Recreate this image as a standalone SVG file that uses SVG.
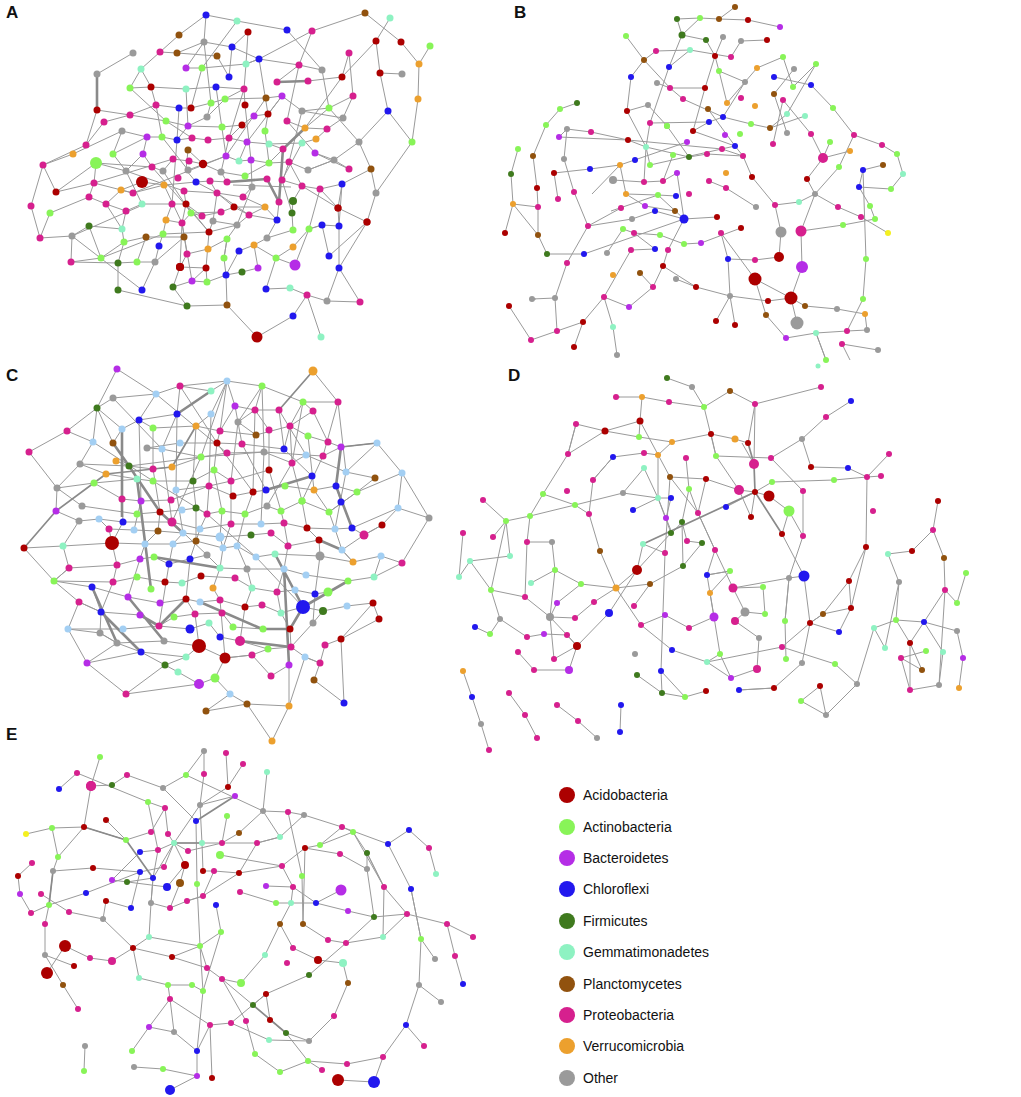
<svg xmlns="http://www.w3.org/2000/svg" width="1021" height="1097" viewBox="0 0 1021 1097">
<style>
.e path{fill:none;stroke:#9a9a9a;stroke-width:1;stroke-linejoin:round}
.e path.t{stroke:#8a8a8a;stroke-width:2.6}
.e path.m{stroke:#8a8a8a;stroke-width:1.7}
.lbl{font-family:"Liberation Sans",Arial,sans-serif;font-weight:bold;font-size:17px;fill:#111}
.lg{font-family:"Liberation Sans",Arial,sans-serif;font-size:14px;fill:#111}
.ac{fill:#ac0000}.at{fill:#88f458}.bc{fill:#b52de6}.cf{fill:#2218ee}.fi{fill:#3f7a1e}.ge{fill:#8ef2c2}.pl{fill:#91520e}.pr{fill:#d6208e}.ve{fill:#eca02e}.ot{fill:#9a9a9a}.lb{fill:#a3cff3}.ye{fill:#f4f020}
</style>
<rect width="1021" height="1097" fill="#fff"/>
<text class="lbl" x="6" y="18">A</text>
<text class="lbl" x="514" y="18">B</text>
<text class="lbl" x="6" y="381">C</text>
<text class="lbl" x="508" y="381">D</text>
<text class="lbl" x="6" y="740">E</text>

<g id="connectors-A" class="e">
<path d="M206 15L237 21L287 30L322 70L329 108L302 111M206 15L179 35L160 52L141 69L130 88M206 15L204 42L186 68M237 21L202 68L191 108M248 32L246 64L244 89L245 105M248 32L232 47L229 77M365 13L312 31L299 65L277 82M312 31L259 59L246 64M365 13L401 42L419 64L418 99L412 142L376 193L367 222L329 256M390 18L376 41L380 73L402 74M430 46L419 64M376 41L342 77L308 81M380 73L388 111L412 142M349 53L342 77M349 53L353 96L343 118L302 111L282 96M353 96L329 108L305 128M388 111L359 142L334 160L308 170M359 142L371 169L376 193M133 53L97 74M97 110L86 145L43 165L31 206L40 238L72 236L71 262L118 263L118 290L187 306L227 305L257 337L293 316L307 295L327 301L360 302L339 268L339 226L342 184M307 295L321 337M327 301L339 268M329 256L322 225L309 229M367 222L338 208L320 189M73 154L43 165M73 154L122 131L147 137M86 145L104 122L130 115L156 105M56 192L96 163L126 171L142 204M50 213L89 197L94 183L96 163M72 236L89 226L122 229L124 242L101 258L71 262M72 236L142 290M50 213L40 238M56 192L43 165M101 258L163 234L209 232M124 242L146 237L184 237M118 263L137 262L155 262L159 246M142 290L155 262L184 237M173 287L180 267L182 223L186 204M187 306L173 287M180 267L206 268L192 281L207 282M227 305L226 275L242 272L258 268M266 289L290 288L307 295M295 265L276 258L254 245L239 251M293 247L309 229L322 225L339 226M339 226L338 208L302 186L282 180M267 238L293 230L292 213L293 201M277 220L265 207L249 215L237 225L213 221M142 182L164 185L196 182L210 181L227 182M196 182L186 170L188 150M196 182L217 193L243 197L252 187M121 190L133 193L164 185M106 204L89 197M106 204L126 211L142 204M142 204L172 204L186 204L202 216L221 212L234 207L265 207M166 220L182 223L191 213L202 216M209 232L213 221L217 193L210 181M227 239L237 225L252 187M224 258L227 239L208 249L187 254L180 267M239 251L226 275L207 282M258 268L254 245L267 238L277 220L279 202M276 258L293 247M289 162L308 170L334 160L349 169M269 163L289 162L302 186L320 189L342 184L371 169M245 176L269 163L283 149L269 144M229 138L247 142L269 144L302 143L316 139L327 129L343 118M192 138L208 140L229 138L242 125L254 116L268 114L282 96M177 140L188 126L207 117L225 99L244 89M147 137L162 137L177 140L192 138M143 154L152 167L163 171L173 159L189 161L203 164L221 172L245 176M188 150L203 164M226 156L239 161L251 160L269 163M166 121L188 126L222 127L242 125M156 105L179 108L191 108L211 103L225 99L266 98L282 96M151 87L186 89L216 87L244 89M130 88L151 87L156 105M186 68L202 68L246 64L259 59L299 65L322 70M160 52L177 53L217 56L229 77M141 69L151 87M97 110L130 115L166 121M122 131L113 154L126 171M143 154L126 171M94 183L133 193M133 193L226 156M126 171L184 191L217 193L249 215L277 220M94 183L173 159M152 167L209 232L237 225M163 171L191 213L222 212M162 137L188 170L226 156L266 98M177 53L204 42L232 47L259 59M130 88L166 121L192 138M204 42L211 103L207 117M216 87L226 156M244 89L229 138L221 172L227 182M282 96L247 142L239 161M302 111L289 162L283 180M245 105L251 160L252 187M268 114L265 131L269 163M287 121L305 128L327 129M287 121L315 153L334 160M315 153L349 169M302 143L282 180M329 108L359 142M299 65L287 121M259 59L268 114M186 89L188 126M179 108L177 140L172 204M156 105L162 137M147 137L143 154M113 154L147 137M121 190L142 182M164 185L182 223L192 281M184 191L186 204M172 204L166 220L163 234M186 204L209 232M217 193L234 207L249 215M243 197L265 207M302 186L293 201M282 180L292 213M320 189L309 229L295 265M342 184L338 208M367 222L339 268M276 258L266 289M227 239L224 258L226 275M207 282L206 268L209 232M192 281L173 287M187 254L182 223M159 246L163 234M146 237L137 262M124 242L118 263M101 258L89 226M106 204L122 229M126 211L122 229M121 190L106 204M56 192L94 183M233 185L291 187M305 128L342 77M96 163L152 167M72 236L145 204"/>
<path class="t" d="M227 182L267 179L279 202L283 149L305 128M97 74L97 110M308 81L277 82"/>
</g>
<g id="nodes-A">
<circle id="a1" class="cf" cx="206" cy="15" r="3.5"/><circle id="a2" class="ge" cx="237" cy="21" r="3.5"/><circle id="a3" class="pl" cx="365" cy="13" r="3.5"/><circle id="a4" class="ge" cx="390" cy="18" r="3.5"/><circle id="a5" class="ac" cx="248" cy="32" r="3.5"/><circle id="a6" class="cf" cx="287" cy="30" r="3.5"/><circle id="a7" class="pr" cx="312" cy="31" r="3.5"/><circle id="a8" class="ac" cx="376" cy="41" r="3.5"/><circle id="a9" class="ac" cx="401" cy="42" r="3.5"/><circle id="a10" class="at" cx="430" cy="46" r="3.5"/>
<circle id="a11" class="pl" cx="179" cy="35" r="3.5"/><circle id="a12" class="ot" cx="204" cy="42" r="3.5"/><circle id="a13" class="cf" cx="232" cy="47" r="3.5"/><circle id="a14" class="ot" cx="133" cy="53" r="3.5"/><circle id="a15" class="pr" cx="160" cy="52" r="3.5"/><circle id="a16" class="pl" cx="177" cy="53" r="3.5"/><circle id="a17" class="pl" cx="217" cy="56" r="3.5"/><circle id="a18" class="cf" cx="259" cy="59" r="3.5"/><circle id="a19" class="pr" cx="349" cy="53" r="3.5"/><circle id="a20" class="ve" cx="419" cy="64" r="3.5"/>
<circle id="a21" class="ot" cx="97" cy="74" r="3.5"/><circle id="a22" class="ge" cx="141" cy="69" r="3.5"/><circle id="a23" class="bc" cx="186" cy="68" r="3.5"/><circle id="a24" class="at" cx="202" cy="68" r="3.5"/><circle id="a25" class="ge" cx="246" cy="64" r="3.5"/><circle id="a26" class="pr" cx="299" cy="65" r="3.5"/><circle id="a27" class="ot" cx="322" cy="70" r="3.5"/><circle id="a28" class="ac" cx="380" cy="73" r="3.5"/><circle id="a29" class="ot" cx="402" cy="74" r="3.5"/><circle id="a30" class="cf" cx="229" cy="77" r="3.5"/>
<circle id="a31" class="ac" cx="342" cy="77" r="3.5"/><circle id="a32" class="pr" cx="277" cy="82" r="3.5"/><circle id="a33" class="pr" cx="308" cy="81" r="3.5"/><circle id="a34" class="at" cx="130" cy="88" r="3.5"/><circle id="a35" class="ac" cx="151" cy="87" r="3.5"/><circle id="a36" class="ge" cx="186" cy="89" r="3.5"/><circle id="a37" class="cf" cx="216" cy="87" r="3.5"/><circle id="a38" class="pr" cx="244" cy="89" r="3.5"/><circle id="a39" class="pr" cx="353" cy="96" r="3.5"/><circle id="a40" class="ve" cx="418" cy="99" r="3.5"/>
<circle id="a41" class="pl" cx="266" cy="98" r="3.5"/><circle id="a42" class="bc" cx="282" cy="96" r="3.5"/><circle id="a43" class="at" cx="225" cy="99" r="3.5"/><circle id="a44" class="at" cx="211" cy="103" r="3.5"/><circle id="a45" class="ac" cx="245" cy="105" r="3.5"/><circle id="a46" class="pr" cx="156" cy="105" r="3.5"/><circle id="a47" class="cf" cx="179" cy="108" r="3.5"/><circle id="a48" class="ac" cx="191" cy="108" r="3.5"/><circle id="a49" class="ac" cx="97" cy="110" r="3.5"/><circle id="a50" class="at" cx="329" cy="108" r="3.5"/>
<circle id="a51" class="cf" cx="388" cy="111" r="3.5"/><circle id="a52" class="ot" cx="302" cy="111" r="3.5"/><circle id="a53" class="pr" cx="130" cy="115" r="3.5"/><circle id="a54" class="ot" cx="207" cy="117" r="3.5"/><circle id="a55" class="bc" cx="254" cy="116" r="3.5"/><circle id="a56" class="ac" cx="268" cy="114" r="3.5"/><circle id="a57" class="ot" cx="343" cy="118" r="3.5"/><circle id="a58" class="pr" cx="104" cy="122" r="3.5"/><circle id="a59" class="at" cx="166" cy="121" r="3.5"/><circle id="a60" class="bc" cx="188" cy="126" r="3.5"/>
<circle id="a61" class="at" cx="222" cy="127" r="3.5"/><circle id="a62" class="ac" cx="242" cy="125" r="3.5"/><circle id="a63" class="pr" cx="287" cy="121" r="3.5"/><circle id="a64" class="ve" cx="305" cy="128" r="3.5"/><circle id="a65" class="pr" cx="327" cy="129" r="3.5"/><circle id="a66" class="ot" cx="122" cy="131" r="3.5"/><circle id="a67" class="bc" cx="147" cy="137" r="3.5"/><circle id="a68" class="at" cx="162" cy="137" r="3.5"/><circle id="a69" class="cf" cx="177" cy="140" r="3.5"/><circle id="a70" class="pr" cx="192" cy="138" r="3.5"/>
<circle id="a71" class="pr" cx="208" cy="140" r="3.5"/><circle id="a72" class="pr" cx="229" cy="138" r="3.5"/><circle id="a73" class="bc" cx="247" cy="142" r="3.5"/><circle id="a74" class="at" cx="265" cy="131" r="3.5"/><circle id="a75" class="ge" cx="269" cy="144" r="3.5"/><circle id="a76" class="pr" cx="283" cy="149" r="3.5"/><circle id="a77" class="ge" cx="302" cy="143" r="3.5"/><circle id="a78" class="ve" cx="316" cy="139" r="3.5"/><circle id="a79" class="ot" cx="359" cy="142" r="3.5"/><circle id="a80" class="at" cx="412" cy="142" r="3.5"/>
<circle id="a81" class="pr" cx="86" cy="145" r="3.5"/><circle id="a82" class="ve" cx="73" cy="154" r="3.5"/><circle id="a83" class="at" cx="113" cy="154" r="3.5"/><circle id="a84" class="bc" cx="143" cy="154" r="3.5"/><circle id="a85" class="pl" cx="188" cy="150" r="3.5"/><circle id="a86" class="bc" cx="226" cy="156" r="3.5"/><circle id="a87" class="bc" cx="315" cy="153" r="3.5"/><circle id="a88" class="pr" cx="43" cy="165" r="3.5"/><circle id="a89" class="pr" cx="152" cy="167" r="3.5"/><circle id="a90" class="pr" cx="173" cy="159" r="3.5"/>
<circle id="a91" class="pr" cx="189" cy="161" r="3.5"/><circle id="a92" class="ac" cx="203" cy="164" r="4.2"/><circle id="a93" class="ge" cx="239" cy="161" r="3.5"/><circle id="a94" class="bc" cx="251" cy="160" r="3.5"/><circle id="a95" class="at" cx="269" cy="163" r="3.5"/><circle id="a96" class="pr" cx="289" cy="162" r="3.5"/><circle id="a97" class="ot" cx="334" cy="160" r="3.5"/><circle id="a98" class="pr" cx="349" cy="169" r="3.5"/><circle id="a99" class="pl" cx="371" cy="169" r="3.5"/><circle id="a100" class="ot" cx="126" cy="171" r="3.5"/>
<circle id="a101" class="ot" cx="163" cy="171" r="3.5"/><circle id="a102" class="ot" cx="188" cy="170" r="3.5"/><circle id="a103" class="ot" cx="221" cy="172" r="3.5"/><circle id="a104" class="at" cx="245" cy="176" r="3.5"/><circle id="a105" class="ot" cx="308" cy="170" r="3.5"/><circle id="a106" class="pr" cx="94" cy="183" r="3.5"/><circle id="a107" class="ve" cx="164" cy="185" r="3.5"/><circle id="a108" class="pr" cx="178" cy="178" r="3.5"/><circle id="a109" class="cf" cx="196" cy="182" r="3.5"/><circle id="a110" class="pr" cx="210" cy="181" r="3.5"/>
<circle id="a111" class="pr" cx="227" cy="182" r="3.5"/><circle id="a112" class="ot" cx="252" cy="187" r="3.5"/><circle id="a113" class="pr" cx="267" cy="179" r="3.5"/><circle id="a114" class="pr" cx="282" cy="180" r="3.5"/><circle id="a115" class="pr" cx="302" cy="186" r="3.5"/><circle id="a116" class="pr" cx="320" cy="189" r="3.5"/><circle id="a117" class="cf" cx="342" cy="184" r="3.5"/><circle id="a118" class="ac" cx="56" cy="192" r="3.5"/><circle id="a119" class="ve" cx="121" cy="190" r="3.5"/><circle id="a120" class="pr" cx="133" cy="193" r="3.5"/>
<circle id="a121" class="pr" cx="184" cy="191" r="3.5"/><circle id="a122" class="pr" cx="217" cy="193" r="3.5"/><circle id="a123" class="pr" cx="243" cy="197" r="3.5"/><circle id="a124" class="pr" cx="89" cy="197" r="3.5"/><circle id="a125" class="ot" cx="376" cy="193" r="3.5"/><circle id="a126" class="pr" cx="31" cy="206" r="3.5"/><circle id="a127" class="pr" cx="106" cy="204" r="3.5"/><circle id="a128" class="ge" cx="142" cy="204" r="3.5"/><circle id="a129" class="pr" cx="172" cy="204" r="3.5"/><circle id="a130" class="ac" cx="186" cy="204" r="3.5"/>
<circle id="a131" class="ac" cx="234" cy="207" r="3.5"/><circle id="a132" class="ve" cx="265" cy="207" r="3.5"/><circle id="a133" class="pr" cx="279" cy="202" r="3.5"/><circle id="a134" class="fi" cx="293" cy="201" r="4"/><circle id="a135" class="ac" cx="338" cy="208" r="3.5"/><circle id="a136" class="at" cx="50" cy="213" r="3.5"/><circle id="a137" class="pr" cx="126" cy="211" r="3.5"/><circle id="a138" class="at" cx="191" cy="213" r="3.5"/><circle id="a139" class="pr" cx="202" cy="216" r="3.5"/><circle id="a140" class="pr" cx="221" cy="212" r="3.5"/>
<circle id="a141" class="pr" cx="249" cy="215" r="3.5"/><circle id="a142" class="fi" cx="292" cy="213" r="3.5"/><circle id="a143" class="ve" cx="166" cy="220" r="3.5"/><circle id="a144" class="pr" cx="182" cy="223" r="3.5"/><circle id="a145" class="ot" cx="213" cy="221" r="3.5"/><circle id="a146" class="cf" cx="277" cy="220" r="3.5"/><circle id="a147" class="ac" cx="367" cy="222" r="3.5"/><circle id="a148" class="fi" cx="89" cy="226" r="3.5"/><circle id="a149" class="ge" cx="122" cy="229" r="3.5"/><circle id="a150" class="ac" cx="209" cy="232" r="3.5"/>
<circle id="a151" class="ot" cx="237" cy="225" r="3.5"/><circle id="a152" class="at" cx="293" cy="230" r="3.5"/><circle id="a153" class="at" cx="309" cy="229" r="3.5"/><circle id="a154" class="cf" cx="322" cy="225" r="3.5"/><circle id="a155" class="cf" cx="339" cy="226" r="3.5"/><circle id="a156" class="pr" cx="40" cy="238" r="3.5"/><circle id="a157" class="ot" cx="72" cy="236" r="3.5"/><circle id="a158" class="pl" cx="146" cy="237" r="3.5"/><circle id="a159" class="at" cx="163" cy="234" r="3.5"/><circle id="a160" class="pl" cx="184" cy="237" r="3.5"/>
<circle id="a161" class="at" cx="227" cy="239" r="3.5"/><circle id="a162" class="ot" cx="267" cy="238" r="3.5"/><circle id="a163" class="at" cx="124" cy="242" r="3.5"/><circle id="a164" class="cf" cx="159" cy="246" r="3.5"/><circle id="a165" class="ve" cx="208" cy="249" r="3.5"/><circle id="a166" class="cf" cx="239" cy="251" r="3.5"/><circle id="a167" class="ve" cx="254" cy="245" r="3.5"/><circle id="a168" class="ve" cx="293" cy="247" r="3.5"/><circle id="a169" class="cf" cx="329" cy="256" r="3.5"/><circle id="a170" class="at" cx="101" cy="258" r="3.5"/>
<circle id="a171" class="pr" cx="187" cy="254" r="3.5"/><circle id="a172" class="at" cx="224" cy="258" r="3.5"/><circle id="a173" class="at" cx="276" cy="258" r="3.5"/><circle id="a174" class="bc" cx="295" cy="265" r="5.5"/><circle id="a175" class="pr" cx="71" cy="262" r="3.5"/><circle id="a176" class="fi" cx="118" cy="263" r="3.5"/><circle id="a177" class="at" cx="137" cy="262" r="3.5"/><circle id="a178" class="ot" cx="155" cy="262" r="3.5"/><circle id="a179" class="ac" cx="180" cy="267" r="4"/><circle id="a180" class="ac" cx="206" cy="268" r="3.5"/>
<circle id="a181" class="bc" cx="258" cy="268" r="3.5"/><circle id="a182" class="cf" cx="339" cy="268" r="3.5"/><circle id="a183" class="fi" cx="242" cy="272" r="3.5"/><circle id="a184" class="cf" cx="226" cy="275" r="3.5"/><circle id="a185" class="bc" cx="192" cy="281" r="3.5"/><circle id="a186" class="at" cx="207" cy="282" r="3.5"/><circle id="a187" class="fi" cx="173" cy="287" r="3.5"/><circle id="a188" class="cf" cx="266" cy="289" r="3.5"/><circle id="a189" class="ge" cx="290" cy="288" r="3.5"/><circle id="a190" class="fi" cx="118" cy="290" r="3.5"/>
<circle id="a191" class="cf" cx="142" cy="290" r="3.5"/><circle id="a192" class="pr" cx="307" cy="295" r="3.5"/><circle id="a193" class="ot" cx="327" cy="301" r="3.5"/><circle id="a194" class="pr" cx="360" cy="302" r="3.5"/><circle id="a195" class="fi" cx="187" cy="306" r="3.5"/><circle id="a196" class="pl" cx="227" cy="305" r="3.5"/><circle id="a197" class="cf" cx="293" cy="316" r="3.5"/><circle id="a198" class="ac" cx="257" cy="337" r="5.5"/><circle id="a199" class="ge" cx="321" cy="337" r="3.5"/><circle id="a200" class="ac" cx="142" cy="182" r="6"/>
<circle id="a201" class="at" cx="96" cy="163" r="6"/><circle id="a202" class="ac" cx="338" cy="208" r="3.5"/><circle id="a203" class="ac" cx="180" cy="267" r="4"/><circle id="a204" class="ac" cx="367" cy="222" r="3.5"/>
</g>

<g id="connectors-B" class="e">
<path d="M677 19L700 18L719 19L748 20L780 27M719 19L735 7M677 19L682 35L706 40L715 56M700 18L682 35L669 67M723 37L715 56M741 41L767 40M741 41L731 57M626 36L644 60L656 51L690 50L731 57M690 50L669 67M644 60L631 77L627 111M644 60L670 88M715 56L705 88M715 56L719 71L727 103M719 71L745 82M757 68L783 57L793 87M757 68L727 103M794 69L774 94M816 64L793 87M816 64L787 114M774 77L811 85L833 108M657 83L670 88L705 88M670 88L683 99L723 117M705 88L693 131M648 105L627 111M648 105L667 126M627 111L646 147M669 67L650 123L646 147L644 182M723 117L709 122L693 131M723 117L751 124L770 128L787 114M770 128L805 116M708 109L735 146M745 82L723 117M774 94L787 133M783 100L773 144M783 100L811 134L823 158L850 151M833 108L854 135L882 145L897 154L903 174L891 189M854 135L839 167M546 125L560 109L577 103M546 125L533 156L537 188L538 207L538 235M513 204L511 174L518 149M513 204L505 233M513 204L538 207M513 204L538 235L547 254L584 254M567 129L591 132L628 140M567 129L564 159L574 192L588 226M559 137L567 129M554 173L558 199M554 173L590 169L620 165M620 165L687 142M620 165L626 194L658 195L676 196M626 194L645 206L675 211M613 180L644 182M646 147L628 140M646 147L689 157L707 154L743 156M673 155L663 181M677 173L684 219L717 217M684 219L668 250M588 226L632 219L655 211L684 219M588 226L567 263L555 298L532 299M555 298L557 331L531 340L509 306M557 331L583 322L574 347M583 322L604 297L629 307L653 287L663 266M604 297L613 327L617 355M604 297L631 250L655 249M584 254L684 219M660 235L684 244L701 243L741 228M663 266L668 250M663 266L696 287L730 296L768 301L791 298M730 296L716 321M730 296L735 325M728 259L730 296M728 259L755 260L779 257L781 232M801 231L802 267L791 298M791 298L797 323M791 298L805 306L837 309L865 314M755 279L791 298M755 279L766 315L786 338L816 333L847 331L867 330M816 333L826 360M863 299L847 331M863 299L866 259L863 170M865 314L867 330M878 350L842 344L850 360M721 233L755 279M721 233L728 259M801 231L843 225L875 219M801 231L815 194L807 179M815 194L838 207L861 217L888 233M775 205L799 202L815 194M756 207L726 188M775 205L781 232M752 177L775 205M839 167L815 194M859 187L870 206L875 219M859 187L863 170L883 165M859 187L891 189M559 137L628 140L722 149M650 165L735 146M620 165L592 194M611 211L658 195M722 149L743 156M709 181L726 188M658 195L684 219M621 208L588 226M634 233L655 249M607 253L623 229L634 233L660 235M536 299L532 299M676 279L696 287M640 273L653 287M667 126L689 157M650 123L709 122M693 131L735 146L743 156M743 156L752 177M807 179L823 158M830 142L823 158M646 147L650 165M677 173L663 181L644 182M826 360L816 333"/>
</g>
<g id="nodes-B">
<circle id="b1" class="fi" cx="677" cy="19" r="3"/><circle id="b2" class="at" cx="700" cy="18" r="3"/><circle id="b3" class="pl" cx="719" cy="19" r="3"/><circle id="b4" class="pl" cx="735" cy="7" r="3"/><circle id="b5" class="ac" cx="748" cy="20" r="3"/><circle id="b6" class="bc" cx="780" cy="27" r="3"/><circle id="b7" class="fi" cx="682" cy="35" r="3.5"/><circle id="b8" class="fi" cx="706" cy="40" r="3"/><circle id="b9" class="ot" cx="723" cy="37" r="3"/><circle id="b10" class="ot" cx="741" cy="41" r="3"/>
<circle id="b11" class="ac" cx="767" cy="40" r="3"/><circle id="b12" class="at" cx="626" cy="36" r="3"/><circle id="b13" class="pr" cx="656" cy="51" r="3"/><circle id="b14" class="ge" cx="690" cy="50" r="3"/><circle id="b15" class="ac" cx="715" cy="56" r="3"/><circle id="b16" class="pr" cx="731" cy="57" r="3"/><circle id="b17" class="at" cx="783" cy="57" r="3"/><circle id="b18" class="pl" cx="644" cy="60" r="3"/><circle id="b19" class="cf" cx="669" cy="67" r="3"/><circle id="b20" class="at" cx="719" cy="71" r="3"/>
<circle id="b21" class="ve" cx="757" cy="68" r="3"/><circle id="b22" class="ot" cx="794" cy="69" r="3"/><circle id="b23" class="at" cx="816" cy="64" r="3"/><circle id="b24" class="cf" cx="631" cy="77" r="3"/><circle id="b25" class="ot" cx="657" cy="83" r="3"/><circle id="b26" class="pr" cx="670" cy="88" r="3"/><circle id="b27" class="ac" cx="705" cy="88" r="3"/><circle id="b28" class="ot" cx="745" cy="82" r="3"/><circle id="b29" class="cf" cx="774" cy="77" r="3"/><circle id="b30" class="at" cx="793" cy="87" r="3"/>
<circle id="b31" class="cf" cx="811" cy="85" r="3"/><circle id="b32" class="pr" cx="683" cy="99" r="3"/><circle id="b33" class="pr" cx="741" cy="98" r="3"/><circle id="b34" class="pl" cx="774" cy="94" r="3"/><circle id="b35" class="pr" cx="783" cy="100" r="3"/><circle id="b36" class="fi" cx="577" cy="103" r="3"/><circle id="b37" class="at" cx="560" cy="109" r="3"/><circle id="b38" class="ac" cx="627" cy="111" r="3"/><circle id="b39" class="ot" cx="648" cy="105" r="3"/><circle id="b40" class="pl" cx="708" cy="109" r="3"/>
<circle id="b41" class="ve" cx="727" cy="103" r="3"/><circle id="b42" class="ve" cx="755" cy="106" r="3"/><circle id="b43" class="at" cx="833" cy="108" r="3"/><circle id="b44" class="ge" cx="787" cy="114" r="3"/><circle id="b45" class="ge" cx="805" cy="116" r="3"/><circle id="b46" class="cf" cx="723" cy="117" r="3"/><circle id="b47" class="cf" cx="709" cy="122" r="3"/><circle id="b48" class="pr" cx="650" cy="123" r="3"/><circle id="b49" class="at" cx="667" cy="126" r="3"/><circle id="b50" class="at" cx="751" cy="124" r="3"/>
<circle id="b51" class="pl" cx="770" cy="128" r="3"/><circle id="b52" class="at" cx="546" cy="125" r="3"/><circle id="b53" class="ot" cx="567" cy="129" r="3"/><circle id="b54" class="bc" cx="559" cy="137" r="3"/><circle id="b55" class="pr" cx="591" cy="132" r="3"/><circle id="b56" class="ac" cx="628" cy="140" r="3"/><circle id="b57" class="ac" cx="693" cy="131" r="3"/><circle id="b58" class="bc" cx="725" cy="135" r="3"/><circle id="b59" class="at" cx="740" cy="134" r="3"/><circle id="b60" class="ot" cx="787" cy="133" r="3"/>
<circle id="b61" class="pr" cx="811" cy="134" r="3"/><circle id="b62" class="pr" cx="854" cy="135" r="3"/><circle id="b63" class="bc" cx="687" cy="142" r="3"/><circle id="b64" class="cf" cx="735" cy="146" r="3"/><circle id="b65" class="pr" cx="773" cy="144" r="3"/><circle id="b66" class="at" cx="830" cy="142" r="3"/><circle id="b67" class="pr" cx="882" cy="145" r="3"/><circle id="b68" class="ge" cx="646" cy="147" r="3"/><circle id="b69" class="pr" cx="722" cy="149" r="3"/><circle id="b70" class="at" cx="518" cy="149" r="3"/>
<circle id="b71" class="pl" cx="533" cy="156" r="3"/><circle id="b72" class="ot" cx="564" cy="159" r="3"/><circle id="b73" class="cf" cx="635" cy="160" r="3"/><circle id="b74" class="at" cx="673" cy="155" r="3"/><circle id="b75" class="fi" cx="689" cy="157" r="3"/><circle id="b76" class="pr" cx="707" cy="154" r="3"/><circle id="b77" class="pr" cx="743" cy="156" r="3"/><circle id="b78" class="pr" cx="823" cy="158" r="5"/><circle id="b79" class="ve" cx="850" cy="151" r="3"/><circle id="b80" class="at" cx="897" cy="154" r="3"/>
<circle id="b81" class="fi" cx="511" cy="174" r="3"/><circle id="b82" class="ac" cx="554" cy="173" r="3"/><circle id="b83" class="cf" cx="590" cy="169" r="3"/><circle id="b84" class="ve" cx="620" cy="165" r="3"/><circle id="b85" class="at" cx="650" cy="165" r="3"/><circle id="b86" class="at" cx="839" cy="167" r="3"/><circle id="b87" class="pl" cx="883" cy="165" r="3"/><circle id="b88" class="cf" cx="863" cy="170" r="3"/><circle id="b89" class="ge" cx="903" cy="174" r="3"/><circle id="b90" class="ot" cx="613" cy="180" r="4"/>
<circle id="b91" class="pr" cx="644" cy="182" r="3"/><circle id="b92" class="pr" cx="663" cy="181" r="3"/><circle id="b93" class="bc" cx="677" cy="173" r="3"/><circle id="b94" class="pr" cx="709" cy="181" r="3"/><circle id="b95" class="ve" cx="726" cy="173" r="3"/><circle id="b96" class="ac" cx="752" cy="177" r="3"/><circle id="b97" class="ac" cx="807" cy="179" r="3"/><circle id="b98" class="ac" cx="537" cy="188" r="3"/><circle id="b99" class="pr" cx="574" cy="192" r="3"/><circle id="b100" class="cf" cx="859" cy="187" r="3"/>
<circle id="b101" class="at" cx="891" cy="189" r="3"/><circle id="b102" class="pr" cx="558" cy="199" r="3"/><circle id="b103" class="ve" cx="626" cy="194" r="3"/><circle id="b104" class="at" cx="658" cy="195" r="3"/><circle id="b105" class="cf" cx="676" cy="196" r="3"/><circle id="b106" class="pr" cx="689" cy="194" r="3"/><circle id="b107" class="pr" cx="726" cy="188" r="3"/><circle id="b108" class="ot" cx="815" cy="194" r="3"/><circle id="b109" class="ve" cx="513" cy="204" r="3"/><circle id="b110" class="pr" cx="538" cy="207" r="3"/>
<circle id="b111" class="pr" cx="621" cy="208" r="3"/><circle id="b112" class="bc" cx="645" cy="206" r="3"/><circle id="b113" class="pl" cx="675" cy="211" r="3"/><circle id="b114" class="ot" cx="756" cy="207" r="3"/><circle id="b115" class="pr" cx="775" cy="205" r="3"/><circle id="b116" class="ge" cx="799" cy="202" r="3"/><circle id="b117" class="pr" cx="838" cy="207" r="3"/><circle id="b118" class="at" cx="870" cy="206" r="3"/><circle id="b119" class="pr" cx="861" cy="217" r="3"/><circle id="b120" class="at" cx="875" cy="219" r="3"/>
<circle id="b121" class="cf" cx="655" cy="211" r="3"/><circle id="b122" class="cf" cx="684" cy="219" r="4.5"/><circle id="b123" class="ac" cx="717" cy="217" r="3"/><circle id="b124" class="ot" cx="632" cy="219" r="3"/><circle id="b125" class="pr" cx="588" cy="226" r="3"/><circle id="b126" class="ac" cx="505" cy="233" r="3"/><circle id="b127" class="pl" cx="538" cy="235" r="3"/><circle id="b128" class="at" cx="623" cy="229" r="3"/><circle id="b129" class="pr" cx="634" cy="233" r="3"/><circle id="b130" class="pr" cx="721" cy="233" r="3"/>
<circle id="b131" class="ac" cx="741" cy="228" r="3"/><circle id="b132" class="ot" cx="781" cy="232" r="5.5"/><circle id="b133" class="pr" cx="801" cy="231" r="5.5"/><circle id="b134" class="at" cx="843" cy="225" r="3"/><circle id="b135" class="ye" cx="888" cy="233" r="3"/><circle id="b136" class="at" cx="660" cy="235" r="3"/><circle id="b137" class="at" cx="684" cy="244" r="3"/><circle id="b138" class="bc" cx="701" cy="243" r="3"/><circle id="b139" class="fi" cx="547" cy="254" r="3"/><circle id="b140" class="cf" cx="584" cy="254" r="3"/>
<circle id="b141" class="cf" cx="655" cy="249" r="3"/><circle id="b142" class="pr" cx="631" cy="250" r="3"/><circle id="b143" class="pr" cx="668" cy="250" r="3"/><circle id="b144" class="ot" cx="607" cy="253" r="3"/><circle id="b145" class="cf" cx="728" cy="259" r="3"/><circle id="b146" class="pr" cx="755" cy="260" r="3"/><circle id="b147" class="ac" cx="779" cy="257" r="5"/><circle id="b148" class="bc" cx="802" cy="267" r="6"/><circle id="b149" class="at" cx="866" cy="259" r="3"/><circle id="b150" class="pr" cx="567" cy="263" r="3"/>
<circle id="b151" class="ac" cx="663" cy="266" r="3"/><circle id="b152" class="ve" cx="613" cy="275" r="3"/><circle id="b153" class="pl" cx="640" cy="273" r="3"/><circle id="b154" class="ac" cx="755" cy="279" r="6.5"/><circle id="b155" class="ot" cx="676" cy="279" r="3"/><circle id="b156" class="pr" cx="653" cy="287" r="3"/><circle id="b157" class="ac" cx="696" cy="287" r="3"/><circle id="b158" class="ot" cx="730" cy="296" r="3"/><circle id="b159" class="ac" cx="768" cy="301" r="3"/><circle id="b160" class="ac" cx="791" cy="298" r="6.5"/>
<circle id="b161" class="pl" cx="805" cy="306" r="3"/><circle id="b162" class="ot" cx="837" cy="309" r="3"/><circle id="b163" class="ve" cx="865" cy="314" r="3"/><circle id="b164" class="at" cx="863" cy="299" r="3"/><circle id="b165" class="ot" cx="532" cy="299" r="3"/><circle id="b166" class="ot" cx="555" cy="298" r="3"/><circle id="b167" class="pr" cx="604" cy="297" r="3"/><circle id="b168" class="bc" cx="629" cy="307" r="3"/><circle id="b169" class="pl" cx="766" cy="315" r="3"/><circle id="b170" class="ot" cx="797" cy="323" r="6.5"/>
<circle id="b171" class="ac" cx="716" cy="321" r="3"/><circle id="b172" class="ac" cx="735" cy="325" r="3"/><circle id="b173" class="ac" cx="509" cy="306" r="3"/><circle id="b174" class="ac" cx="583" cy="322" r="3"/><circle id="b175" class="pr" cx="557" cy="331" r="3"/><circle id="b176" class="pr" cx="531" cy="340" r="3"/><circle id="b177" class="ge" cx="613" cy="327" r="3"/><circle id="b178" class="ac" cx="574" cy="347" r="3"/><circle id="b179" class="bc" cx="786" cy="338" r="3"/><circle id="b180" class="ge" cx="816" cy="333" r="3"/>
<circle id="b181" class="pr" cx="847" cy="331" r="3"/><circle id="b182" class="ot" cx="867" cy="330" r="3"/><circle id="b183" class="pr" cx="842" cy="344" r="3"/><circle id="b184" class="ot" cx="878" cy="350" r="3"/><circle id="b185" class="ot" cx="617" cy="355" r="3"/><circle id="b186" class="at" cx="826" cy="360" r="3"/><circle id="b187" class="at" cx="667" cy="126" r="3"/>
</g>

<g id="connectors-C" class="e">
<path d="M117 369L156 394L180 386L227 381L262 386L303 402L338 402M117 369L97 408L67 431L29 452L57 488L56 511M24 548L54 581L79 602L68 629L87 663L126 694L199 684M338 402L346 472M377 443L402 473L429 518L402 563L374 577M429 518L398 508M373 603L379 619L341 639L344 703M313 371L338 402M113 398L156 394M113 398L97 408L93 442M67 431L93 442L80 464L57 488M80 464L106 474M57 488L82 506M56 511L79 521L63 546M63 546L69 568L54 581M54 581L92 587L101 612L100 633L117 643L141 652M68 629L100 633M79 602L101 612M87 663L117 643M126 694L165 665M141 652L165 665L186 657L199 646M165 665L178 672L199 684L215 678L230 694L247 704M206 711L230 694M206 711L247 704L272 741L289 706L247 704M289 706L289 665L271 676L252 655L225 658L215 678M289 706L305 657M314 680L344 703M314 680L320 663L305 657L291 647M325 645L341 639L373 603M325 645L320 663M347 606L373 603M348 581L374 577L381 556L402 563M381 556L353 562L342 550M364 535L382 525L398 508L402 473M352 528L364 535M346 472L377 443L341 447M341 447L328 442L313 411L303 402M375 478L346 472L306 455M357 492L336 486L341 502M312 476L284 449L290 426L308 436L328 442M284 449L279 410L255 410L238 422M269 430L255 410M262 386L238 422L256 435M227 381L235 406L220 431M227 381L211 414L196 426M180 386L211 391L227 381M153 428L139 420L122 429L113 443L97 408M177 414L162 449L147 448M156 394L139 420M153 428L196 426L220 431L256 435L290 426L313 411M147 448L180 443L217 443L242 444L284 449M162 449L201 457L227 453L264 452L292 463L306 455L323 456L341 447M116 461L129 466L153 469L172 467L201 457M106 474L137 479L153 481L193 481L214 470L231 481L269 470M94 483L137 479M57 488L94 483L122 499L141 501L171 500L209 486L233 496L253 492L266 490L285 486L314 490L336 486M176 490L209 486L231 481M82 506L137 514L160 512L182 510L196 508L207 514L222 511L245 514L267 506L281 511L302 501L329 512L357 492L375 478M79 521L99 519L123 522L172 522L200 529L231 524L261 524L284 523L307 528L335 529L352 528M109 529L134 530L158 531L183 533L220 537L251 535L271 533L288 546L319 540M63 546L112 543L145 544L173 544L196 541L223 548L237 546L256 557L275 554L320 556L353 562M69 568L117 565L140 559L154 557L169 564L190 559L207 555L220 568L247 569L284 569L306 575L348 581M54 581L113 582L137 577L165 582L182 583L201 576L235 578L252 588L277 592L295 590L315 594L328 592L348 581M92 587L128 597L160 603L186 599L200 602L220 600L245 607L262 605L281 613L303 607L323 611L347 606M79 602L101 612L140 615L159 626L174 617L195 614L222 613L233 627L263 629M68 629L123 629L159 626L190 629L209 623L220 637L240 641L268 649L291 647L313 623L323 611M100 633L117 643L164 641L199 646L225 658L252 655L268 649M87 663L141 652L186 657M305 657L320 663M177 414L176 490L183 533L173 544L169 564L159 626M211 414L209 486L207 514L200 529L196 541M238 422L231 481L231 524L223 548L220 568L213 588L220 600L225 658M269 430L269 470L281 511L284 523L288 546L284 569L277 592L281 613L290 629L291 647M290 426L292 463L302 501L307 528L319 540L320 556L315 594L313 623M308 436L314 490L329 512L335 529L342 550L353 562M153 428L153 469L160 512L158 531L145 544L140 559L128 597M122 429L122 499L123 522L112 543L117 565L113 582L101 612M139 420L141 501L134 530M196 426L193 481L196 508L196 541L190 559L186 599L195 614L199 646M255 410L253 492L245 514L237 546L247 569L252 588L245 607L240 641M220 431L217 443L214 470L222 511L220 537L223 548M93 442L153 481L207 514L256 557L303 607M80 464L129 466L201 457L264 452L306 455M113 398L162 449L172 522L207 555M97 408L122 429M227 381L201 457L172 522M262 386L264 452L261 524M303 402L292 463L267 506M338 402L323 456L302 501M156 394L227 453M180 386L217 443L253 492M235 406L242 444L266 490M279 410L306 455M346 472L335 529M382 525L364 535L342 550M402 473L357 492L329 512M398 508L352 528M99 519L109 529L112 543M24 548L63 546M54 581L69 568M139 420L177 414L211 391M235 406L255 410M227 381L220 431M303 402L290 426M180 386L177 414M262 386L255 410"/>
<path class="m" d="M56 511L24 548M313 371L279 410M56 511L106 474L172 467L196 426M377 443L341 447"/>
<path class="t" d="M113 443L129 466L160 512L183 533M137 479L151 589M154 557L220 568M128 597L164 641M200 602L262 629L290 629L303 607M240 641L291 647M319 540L342 550M275 554L303 607M284 569L289 665M341 447L336 486L352 528M92 587L117 643M101 612L141 652M266 490L312 476M211 391L177 414M122 429L122 517M303 607L348 581M186 599L159 626L140 615"/>
</g>
<g id="nodes-C">
<circle id="c1" class="bc" cx="117" cy="369" r="3.5"/><circle id="c2" class="ve" cx="313" cy="371" r="4.5"/><circle id="c3" class="pr" cx="180" cy="386" r="3.5"/><circle id="c4" class="ge" cx="211" cy="391" r="3.5"/><circle id="c5" class="lb" cx="227" cy="381" r="3.5"/><circle id="c6" class="at" cx="262" cy="386" r="3.5"/><circle id="c7" class="lb" cx="156" cy="394" r="3.5"/><circle id="c8" class="ot" cx="113" cy="398" r="3.5"/><circle id="c9" class="fi" cx="97" cy="408" r="3.5"/><circle id="c10" class="pr" cx="338" cy="402" r="3.5"/>
<circle id="c11" class="at" cx="303" cy="402" r="3.5"/><circle id="c12" class="bc" cx="235" cy="406" r="3.5"/><circle id="c13" class="cf" cx="177" cy="414" r="3.5"/><circle id="c14" class="lb" cx="211" cy="414" r="3.5"/><circle id="c15" class="pr" cx="255" cy="410" r="3.5"/><circle id="c16" class="pr" cx="279" cy="410" r="3.5"/><circle id="c17" class="pr" cx="313" cy="411" r="3.5"/><circle id="c18" class="cf" cx="139" cy="420" r="3.5"/><circle id="c19" class="pr" cx="67" cy="431" r="3.5"/><circle id="c20" class="lb" cx="122" cy="429" r="3.5"/>
<circle id="c21" class="at" cx="153" cy="428" r="3.5"/><circle id="c22" class="ve" cx="196" cy="426" r="3.5"/><circle id="c23" class="pr" cx="220" cy="431" r="3.5"/><circle id="c24" class="ot" cx="238" cy="422" r="3.5"/><circle id="c25" class="pr" cx="269" cy="430" r="3.5"/><circle id="c26" class="pr" cx="290" cy="426" r="3.5"/><circle id="c27" class="pl" cx="256" cy="435" r="3.5"/><circle id="c28" class="at" cx="308" cy="436" r="3.5"/><circle id="c29" class="pr" cx="29" cy="452" r="3.5"/><circle id="c30" class="lb" cx="93" cy="442" r="3.5"/>
<circle id="c31" class="pl" cx="113" cy="443" r="3.5"/><circle id="c32" class="ot" cx="147" cy="448" r="3.5"/><circle id="c33" class="lb" cx="162" cy="449" r="3.5"/><circle id="c34" class="lb" cx="180" cy="443" r="3.5"/><circle id="c35" class="ac" cx="217" cy="443" r="3.5"/><circle id="c36" class="pr" cx="242" cy="444" r="3.5"/><circle id="c37" class="cf" cx="284" cy="449" r="3.5"/><circle id="c38" class="pr" cx="328" cy="442" r="3.5"/><circle id="c39" class="bc" cx="341" cy="447" r="3.5"/><circle id="c40" class="lb" cx="377" cy="443" r="3.5"/>
<circle id="c41" class="ot" cx="80" cy="464" r="3.5"/><circle id="c42" class="ve" cx="116" cy="461" r="3.5"/><circle id="c43" class="fi" cx="129" cy="466" r="3.5"/><circle id="c44" class="pr" cx="153" cy="469" r="3.5"/><circle id="c45" class="ve" cx="172" cy="467" r="3.5"/><circle id="c46" class="at" cx="201" cy="457" r="3.5"/><circle id="c47" class="pr" cx="227" cy="453" r="3.5"/><circle id="c48" class="ot" cx="264" cy="452" r="3.5"/><circle id="c49" class="pr" cx="292" cy="463" r="3.5"/><circle id="c50" class="lb" cx="306" cy="455" r="3.5"/>
<circle id="c51" class="pr" cx="323" cy="456" r="3.5"/><circle id="c52" class="ve" cx="106" cy="474" r="3.5"/><circle id="c53" class="ge" cx="137" cy="479" r="3.5"/><circle id="c54" class="at" cx="153" cy="481" r="3.5"/><circle id="c55" class="fi" cx="193" cy="481" r="3.5"/><circle id="c56" class="at" cx="214" cy="470" r="3.5"/><circle id="c57" class="ac" cx="269" cy="470" r="3.5"/><circle id="c58" class="cf" cx="312" cy="476" r="3.5"/><circle id="c59" class="lb" cx="346" cy="472" r="3.5"/><circle id="c60" class="lb" cx="402" cy="473" r="3.5"/>
<circle id="c61" class="pl" cx="375" cy="478" r="3.5"/><circle id="c62" class="ot" cx="57" cy="488" r="3.5"/><circle id="c63" class="at" cx="94" cy="483" r="3.5"/><circle id="c64" class="lb" cx="176" cy="490" r="3.5"/><circle id="c65" class="pr" cx="209" cy="486" r="3.5"/><circle id="c66" class="pr" cx="231" cy="481" r="3.5"/><circle id="c67" class="ac" cx="253" cy="492" r="3.5"/><circle id="c68" class="cf" cx="266" cy="490" r="3.5"/><circle id="c69" class="at" cx="285" cy="486" r="3.5"/><circle id="c70" class="ve" cx="314" cy="490" r="3.5"/>
<circle id="c71" class="cf" cx="336" cy="486" r="3.5"/><circle id="c72" class="at" cx="357" cy="492" r="3.5"/><circle id="c73" class="pr" cx="122" cy="499" r="3.5"/><circle id="c74" class="bc" cx="141" cy="501" r="3.5"/><circle id="c75" class="pr" cx="171" cy="500" r="3.5"/><circle id="c76" class="ac" cx="233" cy="496" r="3.5"/><circle id="c77" class="at" cx="302" cy="501" r="3.5"/><circle id="c78" class="cf" cx="341" cy="502" r="3.5"/><circle id="c79" class="bc" cx="56" cy="511" r="3.5"/><circle id="c80" class="ot" cx="82" cy="506" r="3.5"/>
<circle id="c81" class="at" cx="137" cy="514" r="3.5"/><circle id="c82" class="ac" cx="160" cy="512" r="3.5"/><circle id="c83" class="lb" cx="182" cy="510" r="3.5"/><circle id="c84" class="fi" cx="196" cy="508" r="3.5"/><circle id="c85" class="pr" cx="207" cy="514" r="3.5"/><circle id="c86" class="at" cx="222" cy="511" r="3.5"/><circle id="c87" class="at" cx="245" cy="514" r="3.5"/><circle id="c88" class="ot" cx="267" cy="506" r="3.5"/><circle id="c89" class="at" cx="281" cy="511" r="3.5"/><circle id="c90" class="at" cx="329" cy="512" r="3.5"/>
<circle id="c91" class="lb" cx="398" cy="508" r="3.5"/><circle id="c92" class="ot" cx="429" cy="518" r="3.5"/><circle id="c93" class="ot" cx="79" cy="521" r="3.5"/><circle id="c94" class="lb" cx="99" cy="519" r="3.5"/><circle id="c95" class="cf" cx="123" cy="522" r="3.5"/><circle id="c96" class="pr" cx="172" cy="522" r="4.5"/><circle id="c97" class="lb" cx="200" cy="529" r="3.5"/><circle id="c98" class="pr" cx="231" cy="524" r="3.5"/><circle id="c99" class="lb" cx="261" cy="524" r="3.5"/><circle id="c100" class="pr" cx="284" cy="523" r="3.5"/>
<circle id="c101" class="ac" cx="307" cy="528" r="3.5"/><circle id="c102" class="lb" cx="335" cy="529" r="3.5"/><circle id="c103" class="cf" cx="352" cy="528" r="3.5"/><circle id="c104" class="pr" cx="364" cy="535" r="4.5"/><circle id="c105" class="ac" cx="382" cy="525" r="3.5"/><circle id="c106" class="pr" cx="109" cy="529" r="3.5"/><circle id="c107" class="lb" cx="134" cy="530" r="3.5"/><circle id="c108" class="pl" cx="158" cy="531" r="3.5"/><circle id="c109" class="lb" cx="183" cy="533" r="3.5"/><circle id="c110" class="lb" cx="220" cy="537" r="4.5"/>
<circle id="c111" class="fi" cx="251" cy="535" r="3.5"/><circle id="c112" class="pr" cx="271" cy="533" r="3.5"/><circle id="c113" class="ac" cx="112" cy="543" r="7"/><circle id="c114" class="ge" cx="63" cy="546" r="3.5"/><circle id="c115" class="ac" cx="24" cy="548" r="3.5"/><circle id="c116" class="lb" cx="145" cy="544" r="3.5"/><circle id="c117" class="lb" cx="173" cy="544" r="3.5"/><circle id="c118" class="pl" cx="196" cy="541" r="3.5"/><circle id="c119" class="lb" cx="223" cy="548" r="3.5"/><circle id="c120" class="lb" cx="237" cy="546" r="3.5"/>
<circle id="c121" class="pr" cx="288" cy="546" r="3.5"/><circle id="c122" class="ac" cx="319" cy="540" r="3.5"/><circle id="c123" class="lb" cx="342" cy="550" r="3.5"/><circle id="c124" class="lb" cx="381" cy="556" r="3.5"/><circle id="c125" class="ot" cx="207" cy="555" r="3.5"/><circle id="c126" class="lb" cx="256" cy="557" r="3.5"/><circle id="c127" class="ge" cx="275" cy="554" r="3.5"/><circle id="c128" class="ot" cx="320" cy="556" r="4.5"/><circle id="c129" class="ve" cx="353" cy="562" r="3.5"/><circle id="c130" class="pr" cx="402" cy="563" r="3.5"/>
<circle id="c131" class="bc" cx="140" cy="559" r="3.5"/><circle id="c132" class="at" cx="154" cy="557" r="3.5"/><circle id="c133" class="cf" cx="169" cy="564" r="3.5"/><circle id="c134" class="cf" cx="190" cy="559" r="3.5"/><circle id="c135" class="pr" cx="117" cy="565" r="3.5"/><circle id="c136" class="pr" cx="69" cy="568" r="3.5"/><circle id="c137" class="ge" cx="220" cy="568" r="3.5"/><circle id="c138" class="ot" cx="247" cy="569" r="3.5"/><circle id="c139" class="lb" cx="284" cy="569" r="3.5"/><circle id="c140" class="ac" cx="201" cy="576" r="3.5"/>
<circle id="c141" class="pr" cx="235" cy="578" r="3.5"/><circle id="c142" class="lb" cx="306" cy="575" r="3.5"/><circle id="c143" class="at" cx="137" cy="577" r="3.5"/><circle id="c144" class="ac" cx="165" cy="582" r="3.5"/><circle id="c145" class="ge" cx="182" cy="583" r="3.5"/><circle id="c146" class="at" cx="54" cy="581" r="3.5"/><circle id="c147" class="pr" cx="113" cy="582" r="3.5"/><circle id="c148" class="at" cx="348" cy="581" r="3.5"/><circle id="c149" class="ge" cx="374" cy="577" r="3.5"/><circle id="c150" class="cf" cx="92" cy="587" r="3.5"/>
<circle id="c151" class="at" cx="151" cy="589" r="3.5"/><circle id="c152" class="ve" cx="213" cy="588" r="3.5"/><circle id="c153" class="ge" cx="252" cy="588" r="3.5"/><circle id="c154" class="pr" cx="277" cy="592" r="3.5"/><circle id="c155" class="lb" cx="295" cy="590" r="3.5"/><circle id="c156" class="at" cx="328" cy="592" r="4.5"/><circle id="c157" class="cf" cx="315" cy="594" r="3.5"/><circle id="c158" class="pr" cx="79" cy="602" r="3.5"/><circle id="c159" class="bc" cx="128" cy="597" r="3.5"/><circle id="c160" class="ac" cx="186" cy="599" r="3.5"/>
<circle id="c161" class="lb" cx="200" cy="602" r="3.5"/><circle id="c162" class="pr" cx="220" cy="600" r="3.5"/><circle id="c163" class="ac" cx="245" cy="607" r="3.5"/><circle id="c164" class="pr" cx="262" cy="605" r="3.5"/><circle id="c165" class="cf" cx="303" cy="607" r="7"/><circle id="c166" class="fi" cx="323" cy="611" r="4"/><circle id="c167" class="lb" cx="347" cy="606" r="3.5"/><circle id="c168" class="ac" cx="373" cy="603" r="3.5"/><circle id="c169" class="bc" cx="160" cy="603" r="3.5"/><circle id="c170" class="cf" cx="101" cy="612" r="3.5"/>
<circle id="c171" class="bc" cx="140" cy="615" r="3.5"/><circle id="c172" class="at" cx="174" cy="617" r="3.5"/><circle id="c173" class="pr" cx="195" cy="614" r="3.5"/><circle id="c174" class="pr" cx="222" cy="613" r="3.5"/><circle id="c175" class="ge" cx="281" cy="613" r="3.5"/><circle id="c176" class="ac" cx="379" cy="619" r="3.5"/><circle id="c177" class="ot" cx="313" cy="623" r="3.5"/><circle id="c178" class="ge" cx="209" cy="623" r="3.5"/><circle id="c179" class="at" cx="233" cy="627" r="3.5"/><circle id="c180" class="pr" cx="159" cy="626" r="3.5"/>
<circle id="c181" class="cf" cx="190" cy="629" r="4.5"/><circle id="c182" class="lb" cx="68" cy="629" r="3.5"/><circle id="c183" class="ot" cx="100" cy="633" r="3.5"/><circle id="c184" class="lb" cx="123" cy="629" r="3.5"/><circle id="c185" class="at" cx="263" cy="629" r="3.5"/><circle id="c186" class="ac" cx="290" cy="629" r="3.5"/><circle id="c187" class="ot" cx="164" cy="641" r="3.5"/><circle id="c188" class="ot" cx="117" cy="643" r="3.5"/><circle id="c189" class="cf" cx="141" cy="652" r="3.5"/><circle id="c190" class="ac" cx="199" cy="646" r="7"/>
<circle id="c191" class="cf" cx="220" cy="637" r="3.5"/><circle id="c192" class="pr" cx="240" cy="641" r="5"/><circle id="c193" class="at" cx="268" cy="649" r="3.5"/><circle id="c194" class="pr" cx="291" cy="647" r="3.5"/><circle id="c195" class="pr" cx="325" cy="645" r="3.5"/><circle id="c196" class="ac" cx="341" cy="639" r="3.5"/><circle id="c197" class="pr" cx="252" cy="655" r="3.5"/><circle id="c198" class="lb" cx="305" cy="657" r="3.5"/><circle id="c199" class="ac" cx="225" cy="658" r="5.5"/><circle id="c200" class="ge" cx="186" cy="657" r="3.5"/>
<circle id="c201" class="fi" cx="165" cy="665" r="3.5"/><circle id="c202" class="bc" cx="289" cy="665" r="3.5"/><circle id="c203" class="pr" cx="320" cy="663" r="3.5"/><circle id="c204" class="bc" cx="87" cy="663" r="3.5"/><circle id="c205" class="ge" cx="178" cy="672" r="3.5"/><circle id="c206" class="at" cx="215" cy="678" r="4.5"/><circle id="c207" class="pr" cx="271" cy="676" r="3.5"/><circle id="c208" class="bc" cx="199" cy="684" r="5"/><circle id="c209" class="pl" cx="314" cy="680" r="3.5"/><circle id="c210" class="pr" cx="126" cy="694" r="3.5"/>
<circle id="c211" class="lb" cx="230" cy="694" r="3.5"/><circle id="c212" class="pl" cx="247" cy="704" r="3.5"/><circle id="c213" class="ve" cx="289" cy="706" r="3.5"/><circle id="c214" class="cf" cx="344" cy="703" r="3.5"/><circle id="c215" class="pl" cx="206" cy="711" r="3.5"/><circle id="c216" class="ve" cx="272" cy="741" r="3.5"/><circle id="c217" class="at" cx="302" cy="501" r="3.5"/>
</g>

<g id="connectors-D" class="e">
<path d="M667 378L692 387L704 407L730 391L755 404L821 387M616 397L642 397L669 402L704 407M642 397L640 421L605 431L576 424L568 454L543 494L530 516L527 542L525 597M640 421L670 477L698 513L715 550L707 575M711 434L735 439L748 443M716 456L771 458L802 439L826 417L851 401M755 404L748 443M672 442L658 455L658 498M670 477L665 553L661 671L662 693M605 431L639 437M605 431L568 454M644 453L613 457L593 480L589 514L600 551L616 588M644 453L658 455M686 458L689 489L682 522L683 566L650 584L634 606M670 477L706 479L739 490L755 492L769 496M769 496L789 511L782 534L804 576L810 623L802 663L774 688L739 690M755 492L772 482L834 480L867 477L866 547L849 581L823 614L810 623M771 458L803 491L803 536L789 578L785 621L786 659M811 467L848 468L867 477L881 476M811 467L802 439M889 454L867 477M739 490L751 517M643 544L637 570L609 613L577 646L567 635L544 634L527 637M643 544L665 553M623 493L575 505L530 516L506 521L483 500M623 493L658 498L671 498M644 468L623 493M644 468L658 498L666 518L672 533L682 522M658 498L671 533L637 570M698 513L715 550L733 588L763 587M733 588L789 578M763 587L765 614L745 612L735 621L759 638L757 669L731 678L720 654L714 617L707 575L730 571L710 593L714 617M689 628L665 615L641 625M689 628L714 617M702 543L683 566M687 541L702 543M506 521L493 537M506 521L510 556L470 561L459 577M463 533L459 577M470 561L491 590L500 619L527 637M500 619L490 634L475 627M491 590L525 597L550 617L567 635L577 646L569 670L534 670L518 652M550 617L557 603L581 584L616 588L650 584M550 617L575 618L594 602L616 588M531 583L555 570L581 584M552 542L555 570M550 617L554 659L577 646M616 588L641 625L672 650L707 662L720 654M707 662L731 678M707 662L782 647L810 623M782 647L835 664L857 684L874 628M857 684L826 715L801 701L820 686L826 715M810 623L839 632L851 608L866 547M823 614L851 608M874 628L885 648L899 582L888 554L912 551L933 530L938 501M899 582L896 620L910 643L910 690L939 685L945 590L944 558L933 530M874 628L896 620L924 622L957 631L963 658L959 688M924 622L943 652L939 685M924 622L910 643L922 670L901 658L910 690M924 622L945 590L957 603L966 573M901 658L926 651M637 675L662 693L685 697L706 691M661 671L685 697M739 690L774 688M472 697L481 724L489 750M463 671L472 697M509 693L525 715L537 738M557 705L578 721L597 738M621 705L620 732M671 498L666 518M733 588L745 612M789 578L785 621M704 407L716 456L739 490M755 404L754 464M726 507L755 492M707 575L730 571M576 424L568 454M543 494L575 505L589 514M613 457L593 480M633 510L658 498M711 434L716 456M711 434L672 442L639 437L640 421M620 397L616 397M742 443L754 464M706 479L698 513M689 489L698 513M637 570L616 588M526 542L552 542M555 570L550 617M491 590L506 521M682 522L687 541M755 492L751 517M789 511L803 536M804 576L789 578M849 581L851 608M823 614L810 623"/>
<path class="m" d="M748 443L754 464L755 492M755 492L782 534M643 544L755 492"/>
</g>
<g id="nodes-D">
<circle id="d1" class="fi" cx="667" cy="378" r="3"/><circle id="d2" class="ot" cx="692" cy="387" r="3"/><circle id="d3" class="pl" cx="730" cy="391" r="3"/><circle id="d4" class="pr" cx="821" cy="387" r="3"/><circle id="d5" class="pr" cx="616" cy="397" r="3"/><circle id="d6" class="ve" cx="642" cy="397" r="3"/><circle id="d7" class="pr" cx="669" cy="402" r="3"/><circle id="d8" class="at" cx="704" cy="407" r="3"/><circle id="d9" class="pr" cx="755" cy="404" r="3"/><circle id="d10" class="cf" cx="851" cy="401" r="3"/>
<circle id="d11" class="pr" cx="576" cy="424" r="3"/><circle id="d12" class="ac" cx="605" cy="431" r="3.5"/><circle id="d13" class="ac" cx="640" cy="421" r="3.5"/><circle id="d14" class="pr" cx="826" cy="417" r="3"/><circle id="d15" class="at" cx="639" cy="437" r="3"/><circle id="d16" class="ve" cx="672" cy="442" r="3"/><circle id="d17" class="ac" cx="711" cy="434" r="3"/><circle id="d18" class="ve" cx="735" cy="439" r="3.5"/><circle id="d19" class="ac" cx="748" cy="443" r="3"/><circle id="d20" class="ot" cx="802" cy="439" r="3"/>
<circle id="d21" class="pr" cx="568" cy="454" r="3"/><circle id="d22" class="cf" cx="613" cy="457" r="3"/><circle id="d23" class="pr" cx="644" cy="453" r="3"/><circle id="d24" class="ve" cx="658" cy="455" r="3"/><circle id="d25" class="pr" cx="686" cy="458" r="3"/><circle id="d26" class="at" cx="716" cy="456" r="3"/><circle id="d27" class="pr" cx="771" cy="458" r="3"/><circle id="d28" class="pr" cx="754" cy="464" r="5"/><circle id="d29" class="pr" cx="889" cy="454" r="3"/><circle id="d30" class="ge" cx="644" cy="468" r="3"/>
<circle id="d31" class="pl" cx="670" cy="477" r="3"/><circle id="d32" class="ac" cx="706" cy="479" r="3"/><circle id="d33" class="ac" cx="811" cy="467" r="3"/><circle id="d34" class="cf" cx="848" cy="468" r="3"/><circle id="d35" class="pr" cx="867" cy="477" r="3"/><circle id="d36" class="pr" cx="881" cy="476" r="3"/><circle id="d37" class="at" cx="834" cy="480" r="3"/><circle id="d38" class="at" cx="772" cy="482" r="3"/><circle id="d39" class="pr" cx="593" cy="480" r="3"/><circle id="d40" class="pr" cx="739" cy="490" r="5"/>
<circle id="d41" class="ac" cx="755" cy="492" r="3"/><circle id="d42" class="ac" cx="769" cy="496" r="5.5"/><circle id="d43" class="at" cx="689" cy="489" r="3"/><circle id="d44" class="pr" cx="803" cy="491" r="3"/><circle id="d45" class="at" cx="543" cy="494" r="3"/><circle id="d46" class="pr" cx="567" cy="491" r="3"/><circle id="d47" class="ot" cx="623" cy="493" r="3"/><circle id="d48" class="ge" cx="658" cy="498" r="3"/><circle id="d49" class="cf" cx="671" cy="498" r="3"/><circle id="d50" class="at" cx="789" cy="511" r="5.5"/>
<circle id="d51" class="pr" cx="483" cy="500" r="3"/><circle id="d52" class="at" cx="575" cy="505" r="3"/><circle id="d53" class="cf" cx="726" cy="507" r="3"/><circle id="d54" class="cf" cx="633" cy="510" r="3"/><circle id="d55" class="pr" cx="698" cy="513" r="3"/><circle id="d56" class="ac" cx="751" cy="517" r="3"/><circle id="d57" class="pr" cx="589" cy="514" r="3"/><circle id="d58" class="pr" cx="873" cy="511" r="3"/><circle id="d59" class="ac" cx="938" cy="501" r="3"/><circle id="d60" class="bc" cx="666" cy="518" r="3"/>
<circle id="d61" class="fi" cx="682" cy="522" r="3"/><circle id="d62" class="at" cx="530" cy="516" r="3"/><circle id="d63" class="at" cx="506" cy="521" r="3"/><circle id="d64" class="pr" cx="463" cy="533" r="3"/><circle id="d65" class="pr" cx="493" cy="537" r="3"/><circle id="d66" class="fi" cx="671" cy="533" r="3"/><circle id="d67" class="ac" cx="782" cy="534" r="3"/><circle id="d68" class="pr" cx="803" cy="536" r="3"/><circle id="d69" class="pr" cx="527" cy="542" r="3"/><circle id="d70" class="ot" cx="552" cy="542" r="3"/>
<circle id="d71" class="ge" cx="643" cy="544" r="3"/><circle id="d72" class="pr" cx="687" cy="541" r="3"/><circle id="d73" class="fi" cx="702" cy="543" r="3"/><circle id="d74" class="pr" cx="933" cy="530" r="3"/><circle id="d75" class="ac" cx="866" cy="547" r="3"/><circle id="d76" class="pl" cx="600" cy="551" r="3"/><circle id="d77" class="pr" cx="665" cy="553" r="3"/><circle id="d78" class="pr" cx="715" cy="550" r="3"/><circle id="d79" class="ge" cx="510" cy="556" r="3"/><circle id="d80" class="ge" cx="470" cy="561" r="3"/>
<circle id="d81" class="ge" cx="888" cy="554" r="3"/><circle id="d82" class="ac" cx="912" cy="551" r="3"/><circle id="d83" class="pl" cx="944" cy="558" r="3"/><circle id="d84" class="ge" cx="459" cy="577" r="3"/><circle id="d85" class="ac" cx="637" cy="570" r="5"/><circle id="d86" class="fi" cx="683" cy="566" r="3"/><circle id="d87" class="cf" cx="804" cy="576" r="5.5"/><circle id="d88" class="at" cx="555" cy="570" r="3"/><circle id="d89" class="cf" cx="707" cy="575" r="3"/><circle id="d90" class="at" cx="730" cy="571" r="3"/>
<circle id="d91" class="ot" cx="789" cy="578" r="3"/><circle id="d92" class="ot" cx="899" cy="582" r="3"/><circle id="d93" class="at" cx="966" cy="573" r="3"/><circle id="d94" class="ge" cx="531" cy="583" r="3"/><circle id="d95" class="ac" cx="849" cy="581" r="3"/><circle id="d96" class="at" cx="491" cy="590" r="3"/><circle id="d97" class="at" cx="581" cy="584" r="3"/><circle id="d98" class="ve" cx="616" cy="588" r="3.5"/><circle id="d99" class="pl" cx="650" cy="584" r="3"/><circle id="d100" class="pr" cx="733" cy="588" r="4.5"/>
<circle id="d101" class="at" cx="763" cy="587" r="3"/><circle id="d102" class="pr" cx="945" cy="590" r="3"/><circle id="d103" class="pr" cx="525" cy="597" r="3"/><circle id="d104" class="bc" cx="557" cy="603" r="3"/><circle id="d105" class="pr" cx="594" cy="602" r="3"/><circle id="d106" class="pr" cx="634" cy="606" r="3"/><circle id="d107" class="ve" cx="710" cy="593" r="3"/><circle id="d108" class="at" cx="957" cy="603" r="3"/><circle id="d109" class="cf" cx="609" cy="613" r="4"/><circle id="d110" class="bc" cx="665" cy="615" r="3"/>
<circle id="d111" class="bc" cx="714" cy="617" r="4.5"/><circle id="d112" class="ot" cx="745" cy="612" r="4.5"/><circle id="d113" class="at" cx="765" cy="614" r="3"/><circle id="d114" class="pl" cx="823" cy="614" r="3"/><circle id="d115" class="ac" cx="851" cy="608" r="3"/><circle id="d116" class="ot" cx="500" cy="619" r="3"/><circle id="d117" class="ot" cx="550" cy="617" r="4"/><circle id="d118" class="pr" cx="575" cy="618" r="3"/><circle id="d119" class="pr" cx="735" cy="621" r="4"/><circle id="d120" class="at" cx="785" cy="621" r="3"/>
<circle id="d121" class="ac" cx="810" cy="623" r="3"/><circle id="d122" class="at" cx="896" cy="620" r="3"/><circle id="d123" class="cf" cx="924" cy="622" r="3"/><circle id="d124" class="cf" cx="475" cy="627" r="3"/><circle id="d125" class="at" cx="490" cy="634" r="3"/><circle id="d126" class="pr" cx="689" cy="628" r="3"/><circle id="d127" class="cf" cx="839" cy="632" r="3"/><circle id="d128" class="ge" cx="874" cy="628" r="3"/><circle id="d129" class="ot" cx="957" cy="631" r="3"/><circle id="d130" class="pr" cx="527" cy="637" r="3"/>
<circle id="d131" class="bc" cx="544" cy="634" r="3"/><circle id="d132" class="pr" cx="567" cy="635" r="3"/><circle id="d133" class="pr" cx="641" cy="625" r="3"/><circle id="d134" class="ot" cx="759" cy="638" r="3"/><circle id="d135" class="ac" cx="577" cy="646" r="4"/><circle id="d136" class="ac" cx="910" cy="643" r="3"/><circle id="d137" class="ge" cx="885" cy="648" r="3"/><circle id="d138" class="pr" cx="782" cy="647" r="3"/><circle id="d139" class="cf" cx="672" cy="650" r="3"/><circle id="d140" class="ge" cx="943" cy="652" r="3"/>
<circle id="d141" class="at" cx="926" cy="651" r="3"/><circle id="d142" class="pr" cx="518" cy="652" r="3"/><circle id="d143" class="pr" cx="554" cy="659" r="3"/><circle id="d144" class="ot" cx="635" cy="654" r="3"/><circle id="d145" class="at" cx="720" cy="654" r="3"/><circle id="d146" class="at" cx="786" cy="659" r="3"/><circle id="d147" class="pr" cx="901" cy="658" r="3"/><circle id="d148" class="bc" cx="963" cy="658" r="3"/><circle id="d149" class="ge" cx="707" cy="662" r="3"/><circle id="d150" class="ot" cx="802" cy="663" r="3"/>
<circle id="d151" class="at" cx="835" cy="664" r="3"/><circle id="d152" class="pr" cx="534" cy="670" r="3"/><circle id="d153" class="bc" cx="569" cy="670" r="4"/><circle id="d154" class="pr" cx="757" cy="669" r="4"/><circle id="d155" class="pl" cx="922" cy="670" r="3"/><circle id="d156" class="ve" cx="463" cy="671" r="3"/><circle id="d157" class="bc" cx="731" cy="678" r="3"/><circle id="d158" class="cf" cx="661" cy="671" r="3"/><circle id="d159" class="ot" cx="857" cy="684" r="3"/><circle id="d160" class="ac" cx="820" cy="686" r="3"/>
<circle id="d161" class="fi" cx="637" cy="675" r="3"/><circle id="d162" class="ac" cx="774" cy="688" r="3"/><circle id="d163" class="cf" cx="739" cy="690" r="3"/><circle id="d164" class="ot" cx="939" cy="685" r="3"/><circle id="d165" class="pr" cx="910" cy="690" r="3"/><circle id="d166" class="ve" cx="959" cy="688" r="3"/><circle id="d167" class="fi" cx="662" cy="693" r="3"/><circle id="d168" class="at" cx="685" cy="697" r="3"/><circle id="d169" class="ac" cx="706" cy="691" r="3"/><circle id="d170" class="cf" cx="472" cy="697" r="3"/>
<circle id="d171" class="pr" cx="509" cy="693" r="3"/><circle id="d172" class="at" cx="801" cy="701" r="3"/><circle id="d173" class="pr" cx="557" cy="705" r="3"/><circle id="d174" class="cf" cx="621" cy="705" r="3"/><circle id="d175" class="pr" cx="525" cy="715" r="3"/><circle id="d176" class="ot" cx="826" cy="715" r="3"/><circle id="d177" class="pr" cx="578" cy="721" r="3"/><circle id="d178" class="ot" cx="481" cy="724" r="3"/><circle id="d179" class="pr" cx="537" cy="738" r="3"/><circle id="d180" class="ot" cx="597" cy="738" r="3"/>
<circle id="d181" class="cf" cx="620" cy="732" r="3"/><circle id="d182" class="pr" cx="489" cy="750" r="3"/><circle id="d183" class="ge" cx="818" cy="366" r="2.5"/>
</g>

<g id="connectors-E" class="e">
<path d="M100 757L91 786L84 827L52 828L26 834M77 773L59 789M77 773L148 802M91 786L112 785L127 775L163 788L186 775L204 751M163 788L196 821M186 775L263 811L288 812L304 815L342 827L388 844L409 830L429 848L436 874M226 753L228 787L243 764M228 787L200 805M204 774L200 805L202 843M267 772L263 811L239 833L222 843L202 843L174 843L168 834L165 808M263 811L280 837L304 815M320 845L342 827M235 796L200 805L174 843L153 878L151 903L149 937M148 802L165 808L151 832L126 840L84 827M148 802L158 850L153 878M52 828L58 857L53 871L49 905L45 924L45 955L63 985L78 1009M58 857L84 827M53 871L93 868L140 872L164 867L174 843M32 863L18 876L20 894L31 913L49 905L86 893L140 872M41 894L69 912L103 919L133 948L149 937L200 946L221 932L216 905M103 919L106 901L131 908L140 872M112 880L140 852L158 850L174 843M127 882L153 878L151 903L170 908L187 901L203 896L239 873L257 843M202 843L203 871L214 871L239 873L282 866L305 848L320 845L353 832L367 853L384 887L407 914M185 865L174 843L188 851M185 865L167 887L112 880M185 865L180 883L170 908M196 821L197 884L200 946L203 991L197 1051M188 851L222 843L257 843L280 837M220 855L282 866L293 887L316 903M214 871L203 896L187 901M240 892L276 903L291 903L316 903L348 911L374 917L407 914L447 924L473 937M316 903L341 890M266 886L293 887L291 903L280 924L265 955L241 983L222 979L207 968L200 946M303 924L305 848M280 924L293 948L318 960L343 963M303 924L328 940L346 943L383 937L407 914M346 943L374 917L367 869L340 854L305 848M346 943L309 975L266 994L253 1005L222 979M367 853L384 887L383 937M343 963L348 983L334 1016L309 1041L286 1033L253 1005M266 994L270 1020L286 1033L308 1061L347 1064L383 1057L406 1025L419 985L421 939L411 889L388 844M406 1025L424 1046M419 985L441 1002M421 939L435 959M447 924L455 956L463 984M308 1061L322 1070M338 1080L374 1082L383 1057M269 1040L309 1041M280 1072L255 1054L246 1021L222 979M308 1061L280 1072M231 1023L269 1040M210 1025L197 1051L197 1076L170 1090M210 1025L212 1078M210 1025L231 1023L266 994M210 1025L170 999L149 1027L132 1051M170 999L168 985L139 978L133 948M168 985L192 985L203 991L221 932M170 999L174 1032L197 1051M174 1032L149 1027M163 1069L134 1067M163 1069L197 1076M85 1046L84 1071M65 946L90 958L112 961L133 948L172 957L200 946M172 957L207 968M47 973L65 946M45 955L74 966M227 816L222 843M288 812L302 876L303 924M280 837L257 843M342 827L353 832M367 853L367 869M411 889L421 939M106 820L126 840M204 774L204 751M353 832L384 887"/>
<path class="m" d="M84 827L126 840L153 878M174 843L202 843M196 821L235 796M53 871L49 905M253 1005L286 1033"/>
</g>
<g id="nodes-E">
<circle id="e1" class="at" cx="100" cy="757" r="3"/><circle id="e2" class="ot" cx="204" cy="751" r="3"/><circle id="e3" class="pr" cx="226" cy="753" r="3"/><circle id="e4" class="pr" cx="243" cy="764" r="3"/><circle id="e5" class="pr" cx="77" cy="773" r="3"/><circle id="e6" class="pr" cx="127" cy="775" r="3"/><circle id="e7" class="at" cx="186" cy="775" r="3"/><circle id="e8" class="pr" cx="204" cy="774" r="3"/><circle id="e9" class="ge" cx="267" cy="772" r="3"/><circle id="e10" class="cf" cx="59" cy="789" r="3"/>
<circle id="e11" class="pr" cx="91" cy="786" r="5"/><circle id="e12" class="fi" cx="112" cy="785" r="3"/><circle id="e13" class="ot" cx="163" cy="788" r="3"/><circle id="e14" class="ac" cx="228" cy="787" r="3"/><circle id="e15" class="at" cx="148" cy="802" r="3"/><circle id="e16" class="ot" cx="200" cy="805" r="3"/><circle id="e17" class="bc" cx="235" cy="796" r="3"/><circle id="e18" class="pr" cx="165" cy="808" r="3"/><circle id="e19" class="ot" cx="263" cy="811" r="3"/><circle id="e20" class="pr" cx="288" cy="812" r="3"/>
<circle id="e21" class="ot" cx="304" cy="815" r="3"/><circle id="e22" class="cf" cx="196" cy="821" r="3"/><circle id="e23" class="at" cx="227" cy="816" r="3"/><circle id="e24" class="ac" cx="106" cy="820" r="3"/><circle id="e25" class="ye" cx="26" cy="834" r="3"/><circle id="e26" class="at" cx="52" cy="828" r="3"/><circle id="e27" class="ac" cx="84" cy="827" r="3"/><circle id="e28" class="pr" cx="151" cy="832" r="3"/><circle id="e29" class="pr" cx="168" cy="834" r="3"/><circle id="e30" class="at" cx="126" cy="840" r="3"/>
<circle id="e31" class="ge" cx="174" cy="843" r="3"/><circle id="e32" class="ge" cx="202" cy="843" r="3"/><circle id="e33" class="pr" cx="222" cy="843" r="3"/><circle id="e34" class="pl" cx="239" cy="833" r="3"/><circle id="e35" class="pr" cx="257" cy="843" r="3"/><circle id="e36" class="ge" cx="280" cy="837" r="3"/><circle id="e37" class="pr" cx="342" cy="827" r="3"/><circle id="e38" class="at" cx="353" cy="832" r="3"/><circle id="e39" class="cf" cx="388" cy="844" r="3"/><circle id="e40" class="cf" cx="409" cy="830" r="3"/>
<circle id="e41" class="pr" cx="429" cy="848" r="3"/><circle id="e42" class="cf" cx="140" cy="852" r="3"/><circle id="e43" class="pr" cx="158" cy="850" r="3"/><circle id="e44" class="pr" cx="188" cy="851" r="3"/><circle id="e45" class="at" cx="220" cy="855" r="4"/><circle id="e46" class="ac" cx="305" cy="848" r="3"/><circle id="e47" class="at" cx="320" cy="845" r="3"/><circle id="e48" class="pr" cx="340" cy="854" r="3"/><circle id="e49" class="fi" cx="367" cy="853" r="3"/><circle id="e50" class="at" cx="58" cy="857" r="3"/>
<circle id="e51" class="pr" cx="32" cy="863" r="3"/><circle id="e52" class="ot" cx="53" cy="871" r="3"/><circle id="e53" class="ac" cx="93" cy="868" r="3"/><circle id="e54" class="cf" cx="140" cy="872" r="3"/><circle id="e55" class="cf" cx="153" cy="878" r="3"/><circle id="e56" class="pr" cx="164" cy="867" r="3"/><circle id="e57" class="ac" cx="185" cy="865" r="4"/><circle id="e58" class="ac" cx="203" cy="871" r="3"/><circle id="e59" class="pr" cx="214" cy="871" r="3"/><circle id="e60" class="ac" cx="239" cy="873" r="3"/>
<circle id="e61" class="pr" cx="282" cy="866" r="3"/><circle id="e62" class="at" cx="302" cy="876" r="3"/><circle id="e63" class="ot" cx="367" cy="869" r="3"/><circle id="e64" class="ge" cx="436" cy="874" r="3"/><circle id="e65" class="ac" cx="18" cy="876" r="3"/><circle id="e66" class="bc" cx="112" cy="880" r="3"/><circle id="e67" class="fi" cx="127" cy="882" r="3"/><circle id="e68" class="cf" cx="167" cy="887" r="4"/><circle id="e69" class="pl" cx="180" cy="883" r="4"/><circle id="e70" class="at" cx="197" cy="884" r="3"/>
<circle id="e71" class="bc" cx="266" cy="886" r="3"/><circle id="e72" class="pr" cx="293" cy="887" r="3"/><circle id="e73" class="bc" cx="341" cy="890" r="5.5"/><circle id="e74" class="pr" cx="384" cy="887" r="3"/><circle id="e75" class="cf" cx="411" cy="889" r="3"/><circle id="e76" class="bc" cx="20" cy="894" r="3"/><circle id="e77" class="pr" cx="41" cy="894" r="3"/><circle id="e78" class="cf" cx="86" cy="893" r="3"/><circle id="e79" class="pr" cx="203" cy="896" r="3"/><circle id="e80" class="pr" cx="240" cy="892" r="3"/>
<circle id="e81" class="at" cx="49" cy="905" r="3"/><circle id="e82" class="ac" cx="106" cy="901" r="3"/><circle id="e83" class="ot" cx="151" cy="903" r="3"/><circle id="e84" class="pr" cx="187" cy="901" r="3"/><circle id="e85" class="cf" cx="216" cy="905" r="3"/><circle id="e86" class="at" cx="276" cy="903" r="3"/><circle id="e87" class="ge" cx="291" cy="903" r="3"/><circle id="e88" class="cf" cx="316" cy="903" r="3"/><circle id="e89" class="bc" cx="348" cy="911" r="3"/><circle id="e90" class="pr" cx="31" cy="913" r="3"/>
<circle id="e91" class="pr" cx="69" cy="912" r="3"/><circle id="e92" class="cf" cx="131" cy="908" r="3"/><circle id="e93" class="pr" cx="170" cy="908" r="3"/><circle id="e94" class="fi" cx="374" cy="917" r="3"/><circle id="e95" class="pr" cx="407" cy="914" r="3"/><circle id="e96" class="pr" cx="447" cy="924" r="3"/><circle id="e97" class="pr" cx="473" cy="937" r="3"/><circle id="e98" class="pr" cx="45" cy="924" r="3"/><circle id="e99" class="ot" cx="103" cy="919" r="3"/><circle id="e100" class="pl" cx="280" cy="924" r="3"/>
<circle id="e101" class="pl" cx="303" cy="924" r="3"/><circle id="e102" class="ge" cx="149" cy="937" r="3"/><circle id="e103" class="at" cx="221" cy="932" r="3"/><circle id="e104" class="pr" cx="328" cy="940" r="3"/><circle id="e105" class="pr" cx="346" cy="943" r="3"/><circle id="e106" class="ge" cx="383" cy="937" r="3"/><circle id="e107" class="at" cx="421" cy="939" r="3"/><circle id="e108" class="ac" cx="65" cy="946" r="6"/><circle id="e109" class="ac" cx="133" cy="948" r="3"/><circle id="e110" class="at" cx="200" cy="946" r="3"/>
<circle id="e111" class="pr" cx="293" cy="948" r="3"/><circle id="e112" class="ot" cx="45" cy="955" r="3"/><circle id="e113" class="pr" cx="90" cy="958" r="3"/><circle id="e114" class="pr" cx="112" cy="961" r="4"/><circle id="e115" class="ac" cx="172" cy="957" r="3"/><circle id="e116" class="ge" cx="265" cy="955" r="3"/><circle id="e117" class="ac" cx="318" cy="960" r="4"/><circle id="e118" class="ot" cx="435" cy="959" r="3"/><circle id="e119" class="ac" cx="74" cy="966" r="3"/><circle id="e120" class="ac" cx="47" cy="973" r="6"/>
<circle id="e121" class="pr" cx="207" cy="968" r="3"/><circle id="e122" class="pr" cx="287" cy="963" r="3"/><circle id="e123" class="ge" cx="343" cy="963" r="4"/><circle id="e124" class="pr" cx="455" cy="956" r="3"/><circle id="e125" class="ge" cx="139" cy="978" r="3"/><circle id="e126" class="pr" cx="222" cy="979" r="3"/><circle id="e127" class="at" cx="241" cy="983" r="4"/><circle id="e128" class="fi" cx="309" cy="975" r="3"/><circle id="e129" class="pl" cx="348" cy="983" r="3"/><circle id="e130" class="pl" cx="63" cy="985" r="3"/>
<circle id="e131" class="at" cx="168" cy="985" r="3"/><circle id="e132" class="at" cx="192" cy="985" r="3"/><circle id="e133" class="at" cx="203" cy="991" r="3"/><circle id="e134" class="ot" cx="419" cy="985" r="3"/><circle id="e135" class="cf" cx="463" cy="984" r="3"/><circle id="e136" class="ac" cx="266" cy="994" r="3"/><circle id="e137" class="pr" cx="170" cy="999" r="3"/><circle id="e138" class="fi" cx="253" cy="1005" r="3"/><circle id="e139" class="ot" cx="441" cy="1002" r="3"/><circle id="e140" class="pr" cx="78" cy="1009" r="3"/>
<circle id="e141" class="ac" cx="270" cy="1020" r="3"/><circle id="e142" class="pr" cx="334" cy="1016" r="3"/><circle id="e143" class="pr" cx="231" cy="1023" r="3"/><circle id="e144" class="pr" cx="246" cy="1021" r="3"/><circle id="e145" class="pr" cx="210" cy="1025" r="3"/><circle id="e146" class="bc" cx="149" cy="1027" r="3"/><circle id="e147" class="cf" cx="406" cy="1025" r="3"/><circle id="e148" class="fi" cx="286" cy="1033" r="3"/><circle id="e149" class="ot" cx="174" cy="1032" r="3"/><circle id="e150" class="ge" cx="269" cy="1040" r="3"/>
<circle id="e151" class="ot" cx="309" cy="1041" r="3"/><circle id="e152" class="pr" cx="424" cy="1046" r="3"/><circle id="e153" class="ot" cx="85" cy="1046" r="3"/><circle id="e154" class="at" cx="132" cy="1051" r="3"/><circle id="e155" class="cf" cx="197" cy="1051" r="3"/><circle id="e156" class="at" cx="255" cy="1054" r="3"/><circle id="e157" class="at" cx="308" cy="1061" r="3"/><circle id="e158" class="pr" cx="383" cy="1057" r="3"/><circle id="e159" class="pr" cx="347" cy="1064" r="3"/><circle id="e160" class="at" cx="84" cy="1071" r="3"/>
<circle id="e161" class="ot" cx="134" cy="1067" r="3"/><circle id="e162" class="at" cx="163" cy="1069" r="3"/><circle id="e163" class="pr" cx="322" cy="1070" r="3"/><circle id="e164" class="at" cx="280" cy="1072" r="3"/><circle id="e165" class="bc" cx="197" cy="1076" r="3"/><circle id="e166" class="ac" cx="212" cy="1078" r="3"/><circle id="e167" class="ac" cx="338" cy="1080" r="6"/><circle id="e168" class="cf" cx="374" cy="1082" r="6"/><circle id="e169" class="cf" cx="170" cy="1090" r="5"/><circle id="e170" class="pr" cx="91" cy="786" r="5"/>
</g>

<g id="legend">
<g id="lg-acido"><circle class="ac" cx="567" cy="795" r="8"/><text class="lg" x="583" y="800">Acidobacteria</text></g>
<g id="lg-actino"><circle class="at" cx="567" cy="827" r="8"/><text class="lg" x="583" y="832">Actinobacteria</text></g>
<g id="lg-bacter"><circle class="bc" cx="567" cy="858" r="8"/><text class="lg" x="583" y="863">Bacteroidetes</text></g>
<g id="lg-chloro"><circle class="cf" cx="567" cy="889" r="8"/><text class="lg" x="583" y="894">Chloroflexi</text></g>
<g id="lg-firmi"><circle class="fi" cx="567" cy="921" r="8"/><text class="lg" x="583" y="926">Firmicutes</text></g>
<g id="lg-gemma"><circle class="ge" cx="567" cy="952" r="8"/><text class="lg" x="583" y="957">Gemmatimonadetes</text></g>
<g id="lg-planc"><circle class="pl" cx="567" cy="984" r="8"/><text class="lg" x="583" y="989">Planctomycetes</text></g>
<g id="lg-proteo"><circle class="pr" cx="567" cy="1015" r="8"/><text class="lg" x="583" y="1020">Proteobacteria</text></g>
<g id="lg-verru"><circle class="ve" cx="567" cy="1046" r="8"/><text class="lg" x="583" y="1051">Verrucomicrobia</text></g>
<g id="lg-other"><circle class="ot" cx="567" cy="1078" r="8"/><text class="lg" x="583" y="1083">Other</text></g>
</g>
</svg>
